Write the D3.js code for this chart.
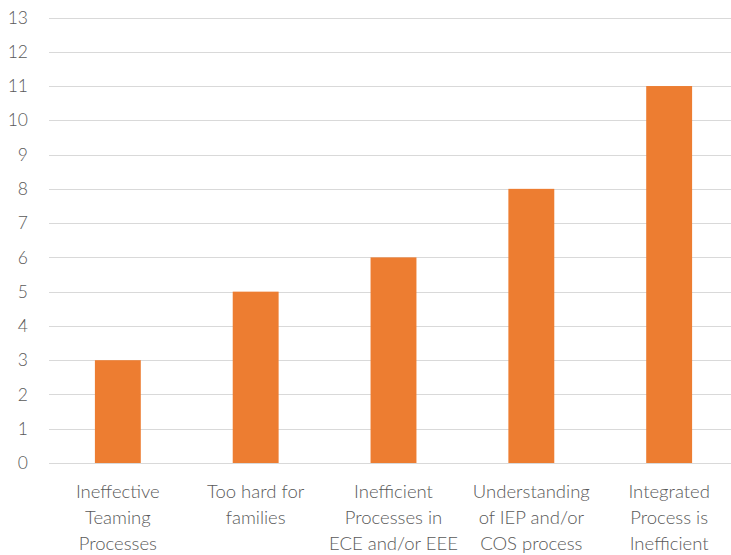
<!DOCTYPE html>
<html>
    <head>
        <script src="https://d3js.org/d3.v7.min.js"></script>
        <style>
            body{margin:0;background:#fff;}
            text{font-family:Lato, "Open Sans", sans-serif;fill:#595959;font-weight:300;}
        </style>
    </head>
    <body>
        <svg height="555" width="731" id="chart"></svg>
        <script>
            // data
            const categories=[
                ["Ineffective","Teaming","Processes"],
                ["Too hard for","families"],
                ["Inefficient","Processes in","ECE and/or EEE"],
                ["Understanding","of IEP and/or","COS process"],
                ["Integrated","Process is","Inefficient"]
            ];
            const values=[3,5,6,8,11];
            const yTicks=d3.range(0,14);

            let svg=d3.select("#chart");
            let plotLeft=49, plotRight=738, plotTop=17.5, plotBottom=463;

            let x=d3.scaleBand()
                .domain(d3.range(values.length))
                .range([plotLeft,plotRight])
                .paddingInner(0.667)
                .paddingOuter(0.333);
            let y=d3.scaleLinear().domain([0,13]).range([plotBottom,plotTop]);

            // gridlines
            svg.append("g").selectAll("line").data(yTicks)
                .join("line")
                .attr("x1",plotLeft).attr("x2",731)
                .attr("y1",d=>Math.round(y(d))+0.5)
                .attr("y2",d=>Math.round(y(d))+0.5)
                .style("stroke","#d9d9d9")
                .style("stroke-width",1);

            // y labels
            svg.append("g").selectAll("text").data(yTicks)
                .join("text")
                .attr("x",28)
                .attr("y",d=>y(d))
                .attr("dy","0.35em")
                .attr("text-anchor","end")
                .style("font-size","17.5px")
                .text(d=>d);

            // bars
            svg.append("g").selectAll("rect").data(values)
                .join("rect")
                .attr("x",(d,i)=>x(i))
                .attr("width",x.bandwidth())
                .attr("y",d=>y(d))
                .attr("height",d=>y(0)-y(d))
                .style("fill","#ed7d31");

            // category labels
            let lab=svg.append("g").selectAll("text").data(categories)
                .join("text")
                .attr("text-anchor","middle")
                .style("font-size","18.5px");
            lab.selectAll("tspan").data((d,i)=>d.map(t=>({t,i})))
                .join("tspan")
                .attr("x",d=>x(d.i)+x.bandwidth()/2)
                .attr("y",(d,j)=>492+j*26)
                .attr("dy","0.35em")
                .text(d=>d.t);
        </script>
    </body>
</html>
